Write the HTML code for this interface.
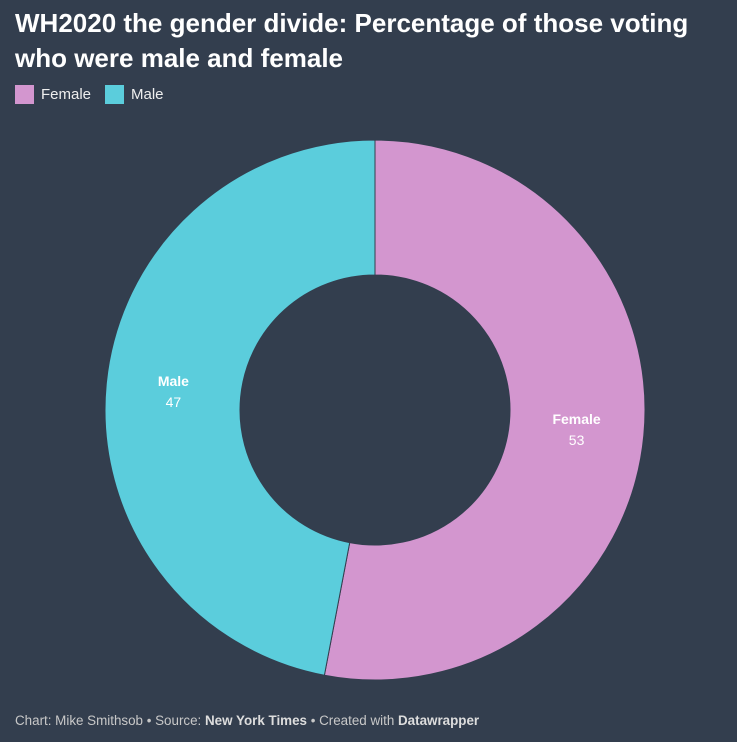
<!DOCTYPE html>
<html><head><meta charset="utf-8"><style>
html,body{margin:0;padding:0;background:#333e4e;width:737px;height:742px;overflow:hidden;font-family:"Liberation Sans",sans-serif;}
h1{position:absolute;left:15px;top:6px;margin:0;font-size:26px;line-height:35px;color:#fff;font-weight:bold;width:720px;white-space:nowrap;}
.leg{position:absolute;top:85px;display:flex;align-items:center;color:#eee;font-size:15px;}
.sw{width:19px;height:19px;margin-right:7px;}
.foot{position:absolute;left:15px;top:713px;font-size:13.4px;color:#c8c8c8;}
.foot b{color:#ddd;}
</style></head><body>
<h1>WH2020 the gender divide: Percentage of those voting<br>who were male and female</h1>
<div class="leg" style="left:15px"><div class="sw" style="background:#d396cf"></div>Female</div>
<div class="leg" style="left:105px"><div class="sw" style="background:#5bcddc"></div>Male</div>
<svg id="c" width="737" height="742" style="position:absolute;left:0;top:0"></svg>
<div class="foot">Chart: Mike Smithsob • Source: <b>New York Times</b> • Created with <b>Datawrapper</b></div>
<script>
const categories=["Female","Male"];
const values=[53,47];
const colors=["#d396cf","#5bcddc"];
const svg=document.getElementById('c');
const NS="http://www.w3.org/2000/svg";
const cx=375,cy=410,R=270,r=135;
const total=values.reduce((a,b)=>a+b,0);
function pt(a,rad){return [cx+rad*Math.sin(a),cy-rad*Math.cos(a)];}
let acc=0;
values.forEach((v,i)=>{
  const a0=acc/total*2*Math.PI; acc+=v; const a1=acc/total*2*Math.PI;
  const large=(a1-a0)>Math.PI?1:0;
  const [x0,y0]=pt(a0,R),[x1,y1]=pt(a1,R),[x2,y2]=pt(a1,r),[x3,y3]=pt(a0,r);
  const p=document.createElementNS(NS,'path');
  p.setAttribute('d',`M${x0},${y0}A${R},${R} 0 ${large} 1 ${x1},${y1}L${x2},${y2}A${r},${r} 0 ${large} 0 ${x3},${y3}Z`);
  p.setAttribute('fill',colors[i]);p.setAttribute('stroke','#333e4e');p.setAttribute('stroke-width','1');
  
  
  svg.appendChild(p);
  const am=(a0+a1)/2;const [lx,ly]=pt(am,(R+r)/2);
  const t1=document.createElementNS(NS,'text');
  t1.setAttribute('x',lx);t1.setAttribute('y',ly-5);t1.setAttribute('text-anchor','middle');
  t1.setAttribute('fill','#fff');t1.setAttribute('font-size','14');t1.setAttribute('font-weight','bold');
  t1.textContent=categories[i];
  
  
  svg.appendChild(t1);
  const t2=document.createElementNS(NS,'text');
  t2.setAttribute('x',lx);t2.setAttribute('y',ly+16);t2.setAttribute('text-anchor','middle');
  t2.setAttribute('fill','#fff');t2.setAttribute('font-size','14');
  t2.textContent=v;
  
  
  svg.appendChild(t2);
});
</script>
</body></html>
